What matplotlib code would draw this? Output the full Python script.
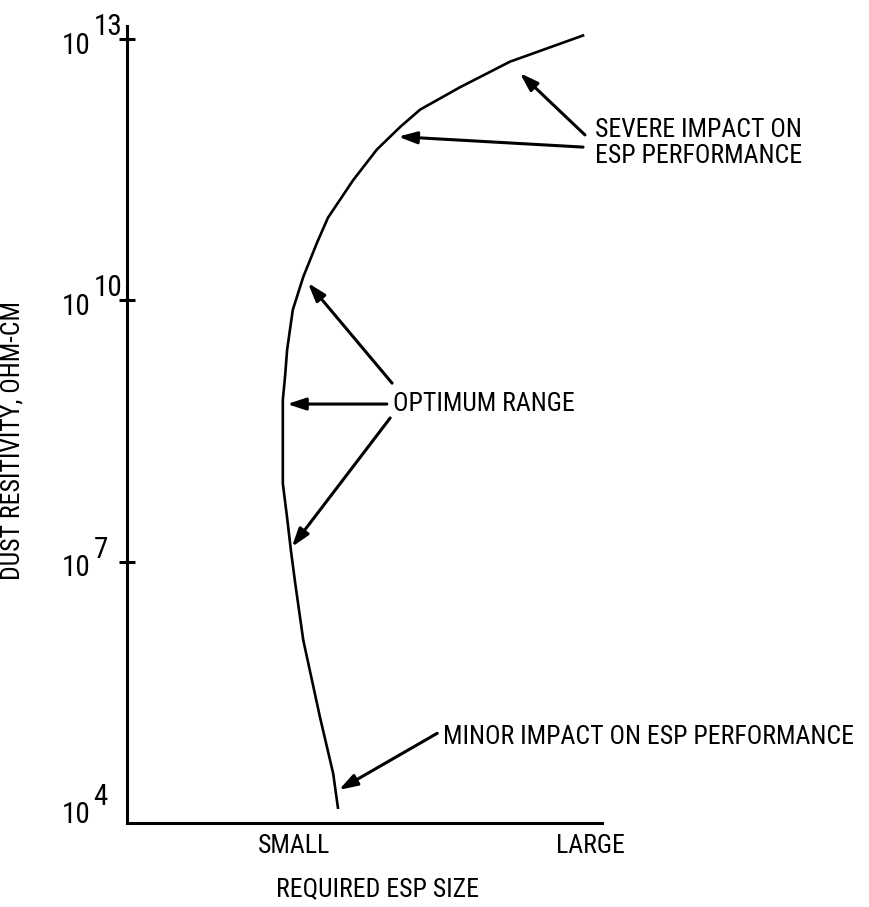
import numpy as np
import matplotlib
matplotlib.use("Agg")
import matplotlib.pyplot as plt
from matplotlib import font_manager
from matplotlib.ticker import NullLocator

# required ESP size (arbitrary units, 0 = origin) vs dust resistivity (ohm-cm)
esp_size = np.array([9.60, 8.06, 7.01, 6.17, 5.75, 5.26, 4.76, 4.23, 4.00, 3.71, 3.49, 3.37,
                     3.33, 3.28, 3.28, 3.28, 3.37, 3.45, 3.54, 3.71, 4.06, 4.34, 4.44])
resistivity = np.array([1.1e13, 5.5e12, 2.8e12, 1.55e12, 9.8e11, 5.4e11, 2.4e11, 8.9e10,
                        4.6e10, 1.86e10, 7.8e9, 2.7e9, 1.4e9, 7.2e8, 1.8e8, 7.9e7, 3.2e7,
                        1.35e7, 5.7e6, 1.26e6, 1.66e5, 3.7e4, 1.5e4])

decades = [4, 7, 10, 13]
tick_decades = [7, 10, 13]
x_ticks = [3.52, 9.75]
x_tick_labels = ["SMALL", "LARGE"]

# the original uses a condensed sans; take one if it is installed
installed = {f.name for f in font_manager.fontManager.ttflist}
narrow = [n for n in ['Liberation Sans Narrow', 'Roboto Condensed', 'Open Sans Condensed',
                      'Arial Narrow'] if n in installed]
if narrow:
    plt.rcParams['font.family'] = [narrow[0], 'DejaVu Sans']
    FS, TFS = 18.5, 21
else:
    plt.rcParams['font.family'] = ['Liberation Sans', 'DejaVu Sans']
    FS, TFS = 15.5, 17

fig = plt.figure(figsize=(8.7, 9.07), dpi=100)
ax = fig.add_axes([0.146, 0.0926, 0.546, 0.8787])

ax.plot(esp_size, resistivity, color='black', lw=1.9, solid_joinstyle='round')

ax.set_yscale('log')
ax.set_ylim(1e4, 10**13.15)
ax.set_xlim(0, 10)
for s in ['top', 'right']:
    ax.spines[s].set_visible(False)
for s in ['left', 'bottom']:
    ax.spines[s].set_linewidth(2.2)

ax.set_yticks([10.0**d for d in tick_decades])
ax.set_yticklabels([])
ax.yaxis.set_minor_locator(NullLocator())
ax.tick_params(axis='y', direction='inout', length=12, width=2.2)

ax.set_xticks(x_ticks, x_tick_labels)
ax.tick_params(axis='x', length=0, pad=8, labelsize=FS)

# "10" with a full-size raised exponent, like the original drawing
for d in decades:
    base_dy, exp_dy = (-10.4, 2.9) if d != 4 else (0, 13)
    ax.annotate("10", xy=(0, 10.0**d), xycoords=('axes fraction', 'data'),
                xytext=(-26.6, base_dy), textcoords='offset points',
                ha='right', va='baseline', fontsize=TFS)
    ax.annotate(str(d), xy=(0, 10.0**d), xycoords=('axes fraction', 'data'),
                xytext=(-24.0, exp_dy), textcoords='offset points',
                ha='left', va='baseline', fontsize=TFS)

ax.set_xlabel("REQUIRED ESP SIZE", fontsize=FS)
ax.xaxis.set_label_coords(0.528, -0.068)
ax.set_ylabel("DUST RESITIVITY, OHM-CM", fontsize=FS)
ax.yaxis.set_label_coords(-0.215, 0.48)

arrow = dict(arrowstyle='-|>,head_length=0.55,head_width=0.18', color='black',
             lw=2.2, shrinkA=0, shrinkB=0, mutation_scale=20)

# severe impact
ax.annotate('', xy=(8.27, 10**12.61), xytext=(9.64, 10**11.90), arrowprops=arrow)
ax.annotate('', xy=(5.71, 10**11.88), xytext=(9.60, 10**11.76), arrowprops=arrow)
ax.text(9.85, 10**11.81, "SEVERE IMPACT ON\nESP PERFORMANCE", fontsize=FS,
        ha='left', va='center', linespacing=1.1, clip_on=False)

# optimum range
ax.annotate('', xy=(3.81, 10**10.20), xytext=(5.58, 10**9.05), arrowprops=arrow)
ax.annotate('', xy=(3.37, 10**8.81), xytext=(5.47, 10**8.81), arrowprops=arrow)
ax.annotate('', xy=(3.47, 10**7.17), xytext=(5.54, 10**8.65), arrowprops=arrow)
ax.text(5.60, 10**8.81, "OPTIMUM RANGE", fontsize=FS, ha='left', va='center')

# minor impact
ax.annotate('', xy=(4.46, 10**4.38), xytext=(6.53, 10**5.03), arrowprops=arrow)
ax.text(6.65, 10**4.99, "MINOR IMPACT ON ESP PERFORMANCE", fontsize=FS,
        ha='left', va='center', clip_on=False)

fig.savefig("out.png", dpi=100)
